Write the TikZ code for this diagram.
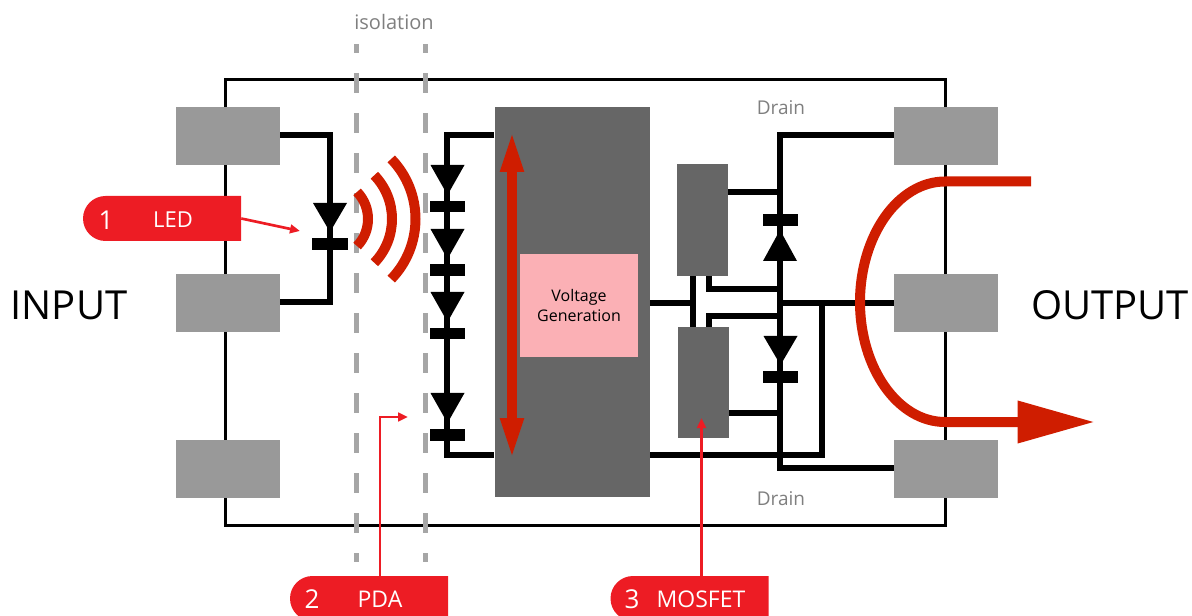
\documentclass[tikz,border=0pt]{standalone}
\usepackage{fontspec}
\setmainfont{Open Sans}
\usetikzlibrary{shapes.misc,arrows.meta}
\definecolor{padgray}{HTML}{999999}
\definecolor{blockgray}{HTML}{666666}
\definecolor{dashgray}{HTML}{A6A6A6}
\definecolor{labelgray}{HTML}{7F7F7F}
\definecolor{flowred}{HTML}{CF1D00}
\definecolor{tagred}{HTML}{ED1C24}
\definecolor{pinkbox}{HTML}{FBB0B5}
\newcommand{\px}[1]{\fontsize{\dimexpr #1pt*3/4\relax}{\dimexpr #1pt*9/10\relax}\selectfont}
\tikzset{
  x=0.75pt,y=-0.75pt,
  block/.style n args={2}{rectangle,inner sep=0pt,minimum width=#1*0.75pt,minimum height=#2*0.75pt},
  pad/.style={block={104}{58},fill=padgray},
  wire/.style={line width=4.5pt,line join=miter,black},
  iso/.style={line width=3.75pt,dashgray,dash pattern=on 15pt off 15pt,dash phase=8.25pt},
  tag/.style={rounded rectangle,rounded rectangle east arc=none,fill=tagred,inner sep=0pt,minimum width=118.5pt,minimum height=33.75pt},
  tagtext/.style={text=white,inner sep=0pt,font=\px{23}},
  tagnum/.style={text=white,inner sep=0pt,font=\px{26}},
  pointer/.style={draw=tagred,line width=2pt,-{Triangle[length=7.5pt,width=6.5pt]}},
  wave/.style={line width=7.5pt,flowred},
  small/.style={text=labelgray,inner sep=0pt,font=\px{20}},
}
% \diodedown{x}{top}{tip}{bar top}{bar bottom}
\newcommand{\diodedown}[5]{%
  \fill (#1-17,#2) -- (#1+17,#2) -- (#1,#3) -- cycle;
  \fill (#1-18,#4) rectangle (#1+17.5,#5);}
\newcommand{\diodeup}[5]{%
  \fill (#1-17,#2) -- (#1+17,#2) -- (#1,#3) -- cycle;
  \fill (#1-17,#4) rectangle (#1+18,#5);}
\begin{document}
\begin{tikzpicture}
\clip (0,0) rectangle (1192,616);
% package
\node[block={720}{446},draw=black,line width=2.25pt] (pkg) at (585,302.5) {};
% isolation barrier
\coordinate (isoAt) at (356.5,44);
\coordinate (isoAb) at (356.5,562);
\coordinate (isoBt) at (425.5,44);
\coordinate (isoBb) at (425.5,562);
\draw[iso] (isoAt) -- (isoAb);
\draw[iso] (isoBt) -- (isoBb);
% pads
\node[pad] (p1) at (228,136) {};
\node[pad] (p2) at (228,303) {};
\node[pad] (p3) at (228,469) {};
\node[pad] (p4) at (946,136) {};
\node[pad] (p5) at (946,303) {};
\node[pad] (p6) at (946,469) {};
% blocks
\node[block={155}{390},fill=blockgray] (gen) at (572.5,302) {};
\node[block={51}{112},fill=blockgray] (m1) at (702.5,220) {};
\node[block={51}{111},fill=blockgray] (m2) at (703.5,382.5) {};
\node[block={118}{103},fill=pinkbox,align=center,inner sep=0pt,font=\px{16}] (vg) at (579,305.5) {Voltage\\Generation};
% junction coordinates
\coordinate (a1) at (329.5,135);
\coordinate (a2) at (329.5,302);
\coordinate (b1) at (447,135);
\coordinate (b2) at (447,455);
\coordinate (genT) at (494,135);
\coordinate (genB) at (494,455);
\coordinate (d1) at (780,135);
\coordinate (d2) at (780,468);
\coordinate (p4w) at (894,135);
\coordinate (p6w) at (894,468);
\coordinate (p5w) at (894,303);
\coordinate (j303) at (780,303);
\coordinate (gout) at (650,303);
\coordinate (gg) at (693,303);
\coordinate (gt) at (693,276);
\coordinate (gb) at (693,327);
\coordinate (s1a) at (709,276);
\coordinate (s1b) at (709,289);
\coordinate (s1c) at (780,289);
\coordinate (s2a) at (709,327);
\coordinate (s2b) at (709,316);
\coordinate (s2c) at (780,316);
\coordinate (u1) at (728,192);
\coordinate (u2) at (780,192);
\coordinate (l1) at (729,413);
\coordinate (l2) at (780,413);
\coordinate (r1) at (650,455);
\coordinate (r2) at (822,455);
\coordinate (r3) at (822,303);
% wires
\draw[wire] (p1.east |- a1) -- (a1) -- (a2) -- (p2.east |- a2);
\draw[wire] (genT) -- (b1) -- (b2) -- (genB);
\draw[wire] (p4w) -- (d1) -- (d2) -- (p6w);
\draw[wire] (j303) -- (p5w);
\draw[wire] (gout) -- (gg);
\draw[wire] (gt) -- (gb);
\draw[wire] (s1a) -- (s1b) -- (s1c);
\draw[wire] (s2a) -- (s2b) -- (s2c);
\draw[wire] (u1) -- (u2);
\draw[wire] (l1) -- (l2);
\draw[wire] (r1) -- (r2) -- (r3);
% diodes
\diodedown{330}{203}{232}{238}{250}
\diodedown{447.5}{165}{195}{201}{212}
\diodedown{447.5}{229}{259}{264}{276}
\diodedown{447.5}{292}{322}{328}{339}
\diodedown{447.5}{393}{423}{429}{441}
\diodeup{780}{261}{230}{214}{226}
\diodedown{780.5}{336}{365}{371}{383}
% light waves
\draw[wave] (329,219) ++(-44:39) arc[start angle=-44,end angle=44,radius=39];
\draw[wave] (329,219) ++(-44:63) arc[start angle=-44,end angle=44,radius=63];
\draw[wave] (329,219) ++(-44:86.5) arc[start angle=-44,end angle=44,radius=86.5];
% voltage arrow
\coordinate (vt) at (512,130);
\coordinate (vb) at (512,460);
\draw[flowred,line width=7.5pt,{Triangle[length=31.5pt,width=15.75pt]}-{Triangle[length=31.5pt,width=15.75pt]}] (vt) -- (vb);
% output current
\coordinate (o1) at (1031,181.5);
\coordinate (o2) at (945,181.5);
\coordinate (o3) at (860,302);
\coordinate (o4) at (945,422);
\coordinate (o5) at (1095,422);
\draw[flowred,line width=7.5pt,-{Triangle[length=58pt,width=30pt]}] (o1) -- (o2) .. controls (898,181.5) and (860,236) .. (o3) .. controls (860,368) and (898,422) .. (o4) -- (o5);
% tags
\node[tag] (tagLED) at (162,218.5) {};
\node[tag] (tagPDA) at (369,598.5) {};
\node[tag] (tagMOS) at (689.5,598.5) {};
\node[tagnum] (n1) at (106,220.5) {1};
\node[tagtext,font=\px{22}] (t1) at (173,220) {LED};
\node[tagnum] (n2) at (312,599) {2};
\node[tagtext] (t2) at (380,599) {PDA};
\node[tagnum] (n3) at (632,599) {3};
\node[tagtext] (t3) at (701,599) {MOSFET};
% pointers
\coordinate (ledtip) at (300,231);
\coordinate (pdacorner) at (380,417);
\coordinate (pdatip) at (408,417);
\coordinate (mostip) at (701.5,418);
\draw[pointer] (tagLED.east) -- (ledtip);
\draw[pointer,line join=miter] (pdacorner |- tagPDA.north) -- (pdacorner) -- (pdatip);
\draw[pointer] (mostip |- tagMOS.north) -- (mostip);
% labels
\node[small] (iso) at (394,22) {isolation};
\node[small,font=\px{19}] (dr1) at (781,108) {Drain};
\node[small,font=\px{19}] (dr2) at (781,499) {Drain};
\node[inner sep=0pt,font=\px{40}] (inp) at (69,305) {INPUT};
\node[inner sep=0pt,font=\px{40}] (outp) at (1110,305) {OUTPUT};
\end{tikzpicture}
\end{document}
